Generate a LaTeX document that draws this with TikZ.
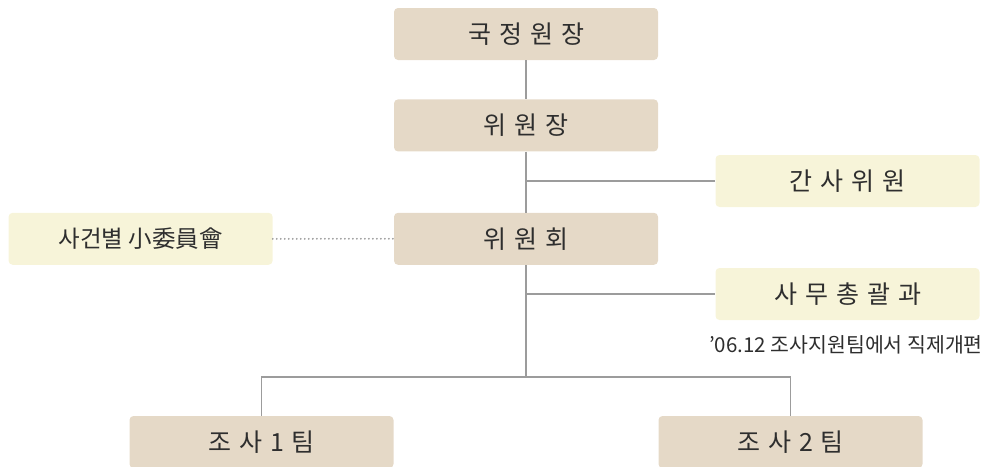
\documentclass[tikz,border=0pt]{standalone}
\usepackage{fontspec}
\setmainfont{Noto Sans CJK KR}
\usepackage{tikz}
\usetikzlibrary{positioning}

\definecolor{beige}{HTML}{E5D9C7}
\definecolor{paleyellow}{HTML}{F7F4D9}
\definecolor{linegray}{HTML}{9C9C9C}
\definecolor{textgray}{HTML}{2E2E2E}

\begin{document}
\begin{tikzpicture}[
    x=1pt, y=1pt,
    mainbox/.style={rectangle, rounded corners=4pt, fill=beige, minimum width=264pt, minimum height=52pt, inner sep=0pt, text=textgray, font={\fontsize{25}{27}\selectfont\spaceskip=8pt\relax}},
    subbox/.style={mainbox, fill=paleyellow},
    note/.style={text=textgray, font=\fontsize{20.5}{22}\selectfont},
    link/.style={draw=linegray, line width=1.2pt},
    dotlink/.style={draw=linegray, line width=2pt, line cap=round, dash pattern=on 0pt off 4pt}
]
\useasboundingbox (0,0) rectangle (990,-466);

% Main column
\node[mainbox] (director) at (526,-34) {국 정 원 장};
\node[mainbox, below=39pt of director] (chair) {위 원 장};
\node[mainbox, below=61pt of chair] (committee) {위 원 회};

% Side boxes
\node[subbox, left=121pt of committee, font=\fontsize{23.5}{25}\selectfont] (subcomm) {사건별 小委員會};
\node[subbox] (secretary) at (847.5,-181) {간 사 위 원};
\node[subbox] (office) at (847.5,-294) {사 무 총 괄 과};
\node[note] (remark) at (846,-345) {'06.12 조사지원팀에서 직제개편};

% Teams
\node[mainbox] (team1) at (261.5,-442) {조 사 1 팀};
\node[mainbox] (team2) at (790.5,-442) {조 사 2 팀};
\coordinate (branch) at (526,-377);

% Connectors
\draw[link] (director) -- (chair);
\draw[link] (chair) -- (committee);
\draw[link] (chair |- secretary) -- (secretary);
\draw[link] (committee |- office) -- (office);
\draw[dotlink] (subcomm) -- (committee);
\draw[link] (committee) -- (branch);
\draw[link] (team1) |- (branch) -| (team2);

\end{tikzpicture}
\end{document}
